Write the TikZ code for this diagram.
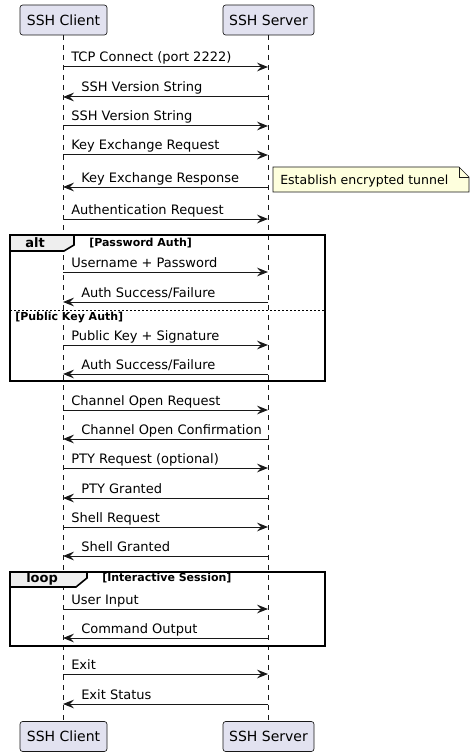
\documentclass[tikz,border=0pt]{standalone}
\usepackage{fontspec}
\setmainfont{DejaVu Sans}
\usetikzlibrary{arrows.meta}
\definecolor{partfill}{HTML}{E2E2F0}
\definecolor{linec}{HTML}{181818}
\definecolor{notefill}{HTML}{FEFFDD}
\definecolor{tabfill}{HTML}{EEEEEE}
\tikzset{
  part/.style={draw=linec, fill=partfill, rounded corners=2pt, line width=0.5pt,
    minimum height=22.5pt, inner sep=0pt, font=\fontsize{10.5pt}{12pt}\selectfont},
  life/.style={draw=linec, line width=0.4pt, dash pattern=on 3.75pt off 3.75pt},
  msg/.style={draw=linec, line width=0.75pt, -{Stealth[length=8.25pt,width=6.5pt,inset=3pt]}},
  lbl/.style={anchor=base west, inner sep=0pt, font=\fontsize{9.75pt}{11pt}\selectfont, text=black},
  notelbl/.style={anchor=base west, inner sep=0pt, font=\fontsize{9.4pt}{11pt}\selectfont, text=black},
  framebox/.style={draw=black, line width=1.2pt},
  tabbox/.style={draw=black, line width=1.2pt, fill=tabfill},
  framelbl/.style={anchor=base west, inner sep=0pt, font=\bfseries\fontsize{9.75pt}{11pt}\selectfont},
  guardlbl/.style={anchor=base west, inner sep=0pt, font=\bfseries\fontsize{8.25pt}{10pt}\selectfont},
  notebox/.style={draw=linec, line width=0.4pt, fill=notefill},
  sepline/.style={draw=black, line width=0.6pt, dash pattern=on 1.5pt off 1.5pt}
}
\newcommand\msgR[3]{%
  \coordinate (#1a) at (63,#2);
  \coordinate (#1b) at (268,#2);
  \draw[msg] (#1a) -- (#1b);
  \node[lbl] (#1t) at (71,#2-5) {#3};}
\newcommand\msgL[3]{%
  \coordinate (#1a) at (63,#2);
  \coordinate (#1b) at (268,#2);
  \draw[msg] (#1b) -- (#1a);
  \node[lbl] (#1t) at (81,#2-5) {#3};}
\begin{document}
\begin{tikzpicture}[x=0.75pt,y=-0.75pt]
\useasboundingbox (0,0) rectangle (474,756);
% participants
\node[part, minimum width=65.25pt] (ct) at (63.5,20) {SSH Client};
\node[part, minimum width=68.25pt] (st) at (268.5,20) {SSH Server};
\node[part, minimum width=65.25pt] (cb) at (63.5,736.5) {SSH Client};
\node[part, minimum width=68.25pt] (sb) at (268.5,736.5) {SSH Server};
\coordinate (cl1) at (63,35);
\coordinate (cl2) at (63,722);
\coordinate (sl1) at (268,35);
\coordinate (sl2) at (268,722);
\draw[life] (cl1) -- (cl2);
\draw[life] (sl1) -- (sl2);
% frames
\draw[tabbox] (10,235) -- (74,235) -- (74,245) -- (64,251) -- (10,251) -- cycle;
\draw[framebox] (10,235) rectangle (325,381);
\node[framelbl] (altl) at (25,247) {alt};
\node[guardlbl] (altg1) at (89,246) {[Password Auth]};
\coordinate (sepa) at (10,310);
\coordinate (sepb) at (325,310);
\draw[sepline] (sepa) -- (sepb);
\node[guardlbl] (altg2) at (15,320) {[Public Key Auth]};
\draw[tabbox] (10,572) -- (87,572) -- (87,578) -- (76,587) -- (10,587) -- cycle;
\draw[framebox] (10,572) rectangle (325,646);
\node[framelbl] (loopl) at (26,582) {loop};
\node[guardlbl] (loopg) at (102,581) {[Interactive Session]};
% note
\draw[notebox] (273,167) -- (459,167) -- (469,177) -- (469,192) -- (273,192) -- cycle;
\draw[draw=linec, line width=0.4pt] (459,167) -- (459,177) -- (469,177);
\node[notelbl] (note) at (280,184.5) {Establish encrypted tunnel};
% messages
\msgR{m1}{67}{TCP Connect (port 2222)}
\msgL{m2}{97}{SSH Version String}
\msgR{m3}{126}{SSH Version String}
\msgR{m4}{155}{Key Exchange Request}
\msgL{m5}{187}{Key Exchange Response}
\msgR{m6}{219}{Authentication Request}
\msgR{m7}{272}{Username + Password}
\msgL{m8}{302}{Auth Success/Failure}
\msgR{m9}{345}{Public Key + Signature}
\msgL{m10}{374}{Auth Success/Failure}
\msgR{m11}{410}{Channel Open Request}
\msgL{m12}{439}{Channel Open Confirmation}
\msgR{m13}{468}{PTY Request (optional)}
\msgL{m14}{498}{PTY Granted}
\msgR{m15}{527}{Shell Request}
\msgL{m16}{556}{Shell Granted}
\msgR{m17}{609}{User Input}
\msgL{m18}{638}{Command Output}
\msgR{m19}{674}{Exit}
\msgL{m20}{704}{Exit Status}
\end{tikzpicture}
\end{document}
